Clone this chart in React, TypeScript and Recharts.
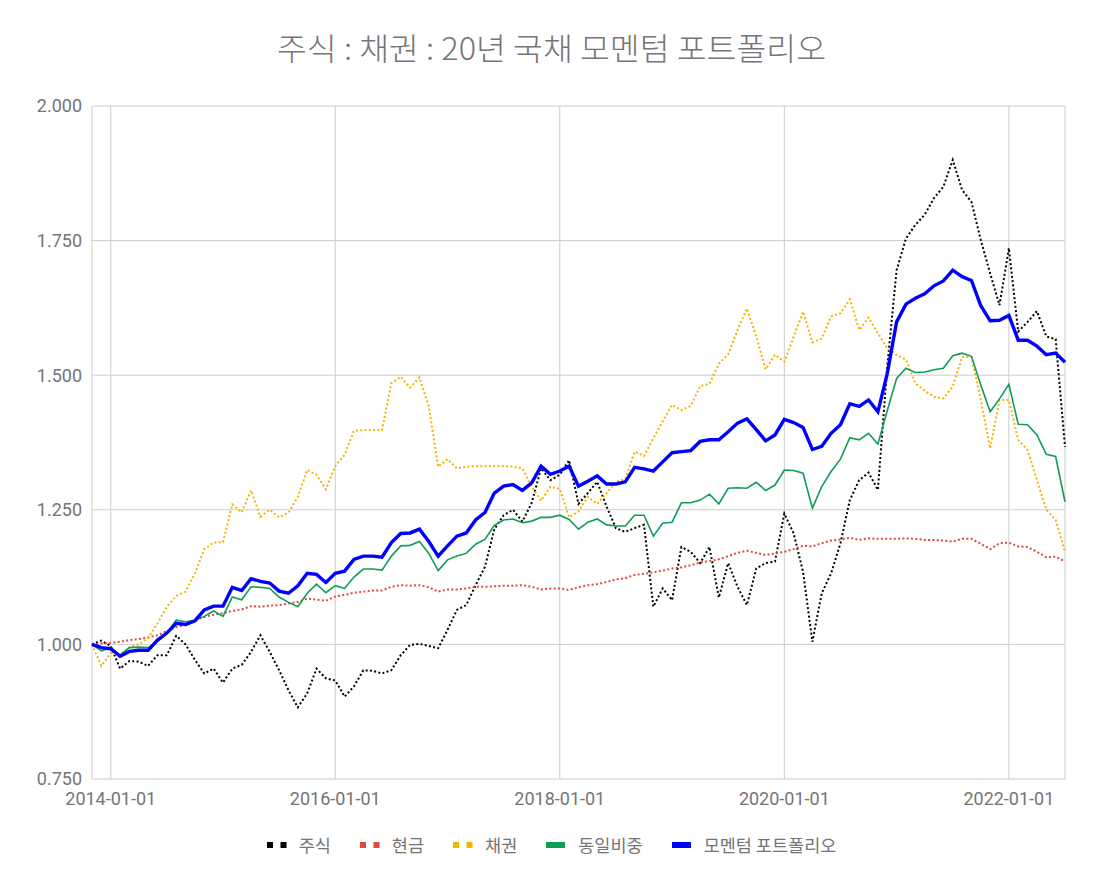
import { LineChart, Line, XAxis, YAxis, CartesianGrid } from 'recharts';

// monthly points, Nov 2013 .. Jul 2022
const stock = [
  1.000, 1.007, 0.997, 0.955, 0.969, 0.968, 0.960, 0.980, 0.980, 1.016,
  1.000, 0.971, 0.946, 0.955, 0.929, 0.955, 0.962, 0.986, 1.017, 0.986,
  0.952, 0.915, 0.883, 0.909, 0.955, 0.937, 0.933, 0.903, 0.922, 0.952,
  0.951, 0.946, 0.952, 0.980, 0.999, 1.001, 0.997, 0.993, 1.027, 1.064,
  1.073, 1.110, 1.144, 1.214, 1.240, 1.250, 1.228, 1.263, 1.327, 1.305,
  1.315, 1.342, 1.261, 1.281, 1.302, 1.256, 1.216, 1.209, 1.216, 1.222,
  1.070, 1.104, 1.082, 1.181, 1.172, 1.151, 1.181, 1.087, 1.151, 1.107,
  1.073, 1.141, 1.151, 1.154, 1.243, 1.206, 1.135, 1.005, 1.095, 1.132,
  1.188, 1.268, 1.305, 1.319, 1.287, 1.516, 1.695, 1.754, 1.779, 1.798,
  1.829, 1.850, 1.900, 1.844, 1.822, 1.751, 1.689, 1.630, 1.736, 1.581,
  1.599, 1.619, 1.572, 1.567, 1.367,
];

const cash = [
  1.000, 1.002, 1.003, 1.005, 1.008, 1.010, 1.013, 1.017, 1.025, 1.032,
  1.036, 1.045, 1.051, 1.055, 1.058, 1.062, 1.065, 1.071, 1.070, 1.072,
  1.073, 1.076, 1.079, 1.085, 1.083, 1.081, 1.089, 1.092, 1.096, 1.098,
  1.100, 1.100, 1.107, 1.110, 1.109, 1.110, 1.106, 1.098, 1.102, 1.102,
  1.104, 1.107, 1.107, 1.108, 1.109, 1.109, 1.110, 1.107, 1.102, 1.104,
  1.104, 1.101, 1.106, 1.110, 1.112, 1.116, 1.121, 1.123, 1.129, 1.131,
  1.134, 1.137, 1.141, 1.143, 1.147, 1.152, 1.155, 1.158, 1.164, 1.170,
  1.174, 1.170, 1.166, 1.169, 1.172, 1.177, 1.183, 1.182, 1.188, 1.193,
  1.195, 1.198, 1.194, 1.197, 1.196, 1.196, 1.196, 1.197, 1.196, 1.194,
  1.194, 1.193, 1.191, 1.196, 1.196, 1.187, 1.177, 1.188, 1.189, 1.182,
  1.181, 1.172, 1.162, 1.163, 1.154,
];

const bond = [
  1.000, 0.960, 0.984, 0.980, 0.995, 1.000, 1.012, 1.039, 1.070, 1.090,
  1.098, 1.132, 1.177, 1.189, 1.190, 1.260, 1.245, 1.286, 1.237, 1.250,
  1.236, 1.245, 1.274, 1.324, 1.315, 1.288, 1.331, 1.352, 1.397, 1.398,
  1.398, 1.398, 1.485, 1.497, 1.477, 1.496, 1.442, 1.330, 1.344, 1.327,
  1.330, 1.331, 1.331, 1.331, 1.331, 1.330, 1.327, 1.293, 1.267, 1.293,
  1.289, 1.236, 1.247, 1.274, 1.261, 1.281, 1.302, 1.307, 1.358, 1.350,
  1.383, 1.414, 1.445, 1.435, 1.443, 1.480, 1.484, 1.521, 1.539, 1.584,
  1.624, 1.572, 1.511, 1.538, 1.525, 1.572, 1.618, 1.561, 1.568, 1.609,
  1.615, 1.641, 1.584, 1.607, 1.578, 1.550, 1.538, 1.529, 1.485, 1.471,
  1.460, 1.457, 1.479, 1.534, 1.534, 1.454, 1.364, 1.454, 1.454, 1.380,
  1.361, 1.305, 1.250, 1.231, 1.172,
];

const equal = [
  1.000, 0.988, 0.994, 0.980, 0.994, 0.995, 0.994, 1.005, 1.021, 1.045,
  1.042, 1.045, 1.052, 1.062, 1.052, 1.088, 1.083, 1.107, 1.106, 1.104,
  1.088, 1.078, 1.070, 1.095, 1.112, 1.096, 1.109, 1.104, 1.125, 1.140,
  1.140, 1.138, 1.164, 1.183, 1.184, 1.191, 1.169, 1.137, 1.157, 1.164,
  1.169, 1.186, 1.195, 1.221, 1.231, 1.233, 1.226, 1.229, 1.236, 1.236,
  1.240, 1.232, 1.214, 1.227, 1.233, 1.222, 1.220, 1.220, 1.240, 1.240,
  1.201, 1.225, 1.227, 1.263, 1.263, 1.268, 1.279, 1.261, 1.290, 1.291,
  1.290, 1.301, 1.286, 1.296, 1.324, 1.323, 1.318, 1.253, 1.293, 1.321,
  1.344, 1.384, 1.380, 1.392, 1.372, 1.434, 1.494, 1.513, 1.505, 1.506,
  1.510, 1.513, 1.536, 1.541, 1.535, 1.482, 1.432, 1.456, 1.483, 1.409,
  1.408, 1.389, 1.353, 1.349, 1.265,
];

const momentum = [
  1.000, 0.994, 0.992, 0.978, 0.987, 0.989, 0.989, 1.008, 1.021, 1.039,
  1.037, 1.044, 1.064, 1.071, 1.071, 1.106, 1.100, 1.122, 1.117, 1.114,
  1.099, 1.095, 1.109, 1.132, 1.130, 1.115, 1.132, 1.136, 1.158, 1.164,
  1.164, 1.162, 1.189, 1.206, 1.207, 1.214, 1.191, 1.164, 1.183, 1.201,
  1.207, 1.231, 1.245, 1.281, 1.294, 1.297, 1.286, 1.300, 1.331, 1.316,
  1.322, 1.331, 1.294, 1.303, 1.313, 1.298, 1.298, 1.302, 1.329, 1.326,
  1.322, 1.339, 1.356, 1.358, 1.360, 1.377, 1.380, 1.380, 1.395, 1.411,
  1.419, 1.399, 1.378, 1.389, 1.418, 1.412, 1.403, 1.362, 1.368, 1.392,
  1.408, 1.447, 1.442, 1.454, 1.432, 1.503, 1.599, 1.632, 1.643, 1.651,
  1.666, 1.675, 1.695, 1.683, 1.676, 1.629, 1.601, 1.602, 1.611, 1.565,
  1.565, 1.554, 1.538, 1.541, 1.524,
];

const xTickIndex = [2, 26, 50, 74, 98];
const xTickLabels = ['2014-01-01', '2016-01-01', '2018-01-01', '2020-01-01', '2022-01-01'];
const yTicks = [0.75, 1.0, 1.25, 1.5, 1.75, 2.0];

const series = [
  { key: 'stock', name: '주식', color: '#000000', width: 2, dash: '2 2.3' },
  { key: 'cash', name: '현금', color: '#e2483d', width: 2, dash: '2 2.3' },
  { key: 'bond', name: '채권', color: '#f4b400', width: 2, dash: '2 2.3' },
  { key: 'equal', name: '동일비중', color: '#0f9d58', width: 1.6, dash: undefined },
  { key: 'momentum', name: '모멘텀 포트폴리오', color: '#0000ff', width: 3.4, dash: undefined },
];

const rows = momentum.map((_, i) => ({
  idx: i,
  stock: stock[i],
  cash: cash[i],
  bond: bond[i],
  equal: equal[i],
  momentum: momentum[i],
}));

const GRAY = '#757575';
const tickStyle = { fill: GRAY, fontSize: 18, fontFamily: 'Roboto, "Noto Sans CJK KR", sans-serif' };

function LegendIcon({ color, dotted }: { color: string; dotted: boolean }) {
  if (dotted) {
    return (
      <svg width={20} height={8} style={{ display: 'block' }}>
        <rect x={0} y={1} width={6} height={6} fill={color} />
        <rect x={13.5} y={1} width={6} height={6} fill={color} />
      </svg>
    );
  }
  return (
    <svg width={20} height={8} style={{ display: 'block' }}>
      <rect x={0} y={1} width={19} height={6} fill={color} />
    </svg>
  );
}

export default function App() {
  return (
    <div style={{ position: 'absolute', left: 0, top: 0, width: 1103, height: 891, background: '#fff' }}>
      <svg width={1103} height={80} style={{ position: 'absolute', left: 0, top: 0 }}>
        <text
          x={551.5}
          y={60}
          textAnchor="middle"
          fontSize={31}
          fill={GRAY}
          fontFamily='"Noto Sans CJK KR", Roboto, sans-serif'
          fontWeight={300}
          textLength={549}
          lengthAdjust="spacingAndGlyphs"
        >
          주식 : 채권 : 20년 국채 모멘텀 포트폴리오
        </text>
      </svg>

      <LineChart
        width={1103}
        height={891}
        data={rows}
        margin={{ top: 106, right: 38, bottom: 72, left: 12 }}
      >
        <CartesianGrid stroke="#cccccc" strokeWidth={1} />
        <XAxis
          dataKey="idx"
          type="number"
          domain={[0, 104]}
          ticks={xTickIndex}
          tickFormatter={(v: number) => xTickLabels[xTickIndex.indexOf(v)] ?? ''}
          axisLine={false}
          tickLine={false}
          tickSize={0}
          tickMargin={13}
          height={40}
          tick={tickStyle}
          interval={0}
        />
        <YAxis
          type="number"
          domain={[0.75, 2]}
          ticks={yTicks}
          tickFormatter={(v: number) => v.toFixed(3)}
          axisLine={false}
          tickLine={false}
          tickSize={0}
          tickMargin={10}
          width={80}
          tick={tickStyle}
          interval={0}
        />
        {series.map((s) => (
          <Line
            key={s.key}
            type="linear"
            dataKey={s.key}
            name={s.name}
            stroke={s.color}
            strokeWidth={s.width}
            strokeDasharray={s.dash}
            dot={false}
            activeDot={false}
            isAnimationActive={false}
          />
        ))}
      </LineChart>

      <div
        style={{
          position: 'absolute',
          left: 0,
          top: 832,
          width: 1103,
          display: 'flex',
          justifyContent: 'center',
          alignItems: 'center',
          fontFamily: '"Noto Sans CJK KR", Roboto, sans-serif',
          fontSize: 17.5,
          color: GRAY,
          lineHeight: '26px',
        }}
      >
        {series.map((s, i) => (
          <div
            key={s.key}
            style={{ display: 'flex', alignItems: 'center', marginRight: i < series.length - 1 ? 29 : 0 }}
          >
            <LegendIcon color={s.color} dotted={!!s.dash} />
            <span style={{ marginLeft: 12 }}>{s.name}</span>
          </div>
        ))}
      </div>
    </div>
  );
}
